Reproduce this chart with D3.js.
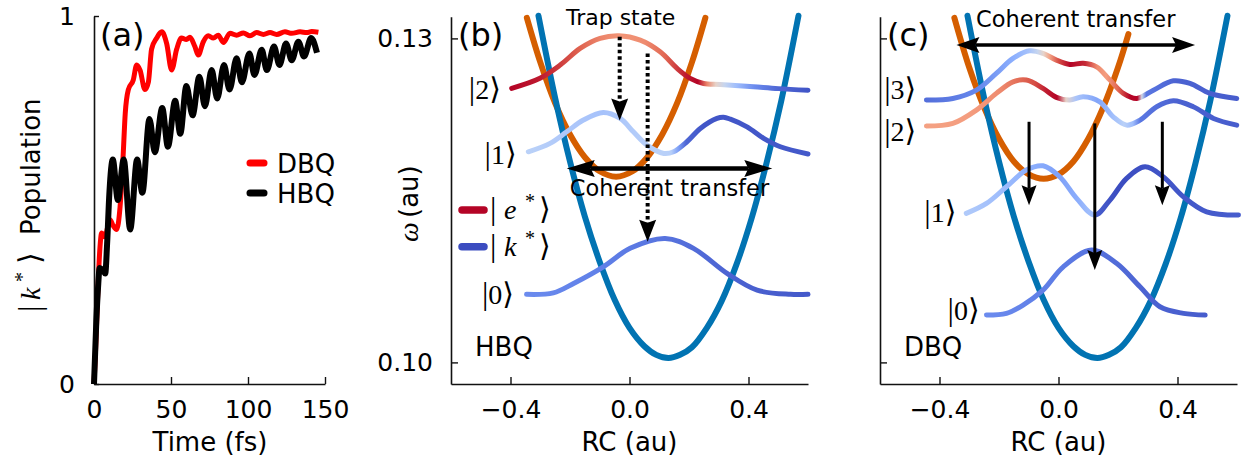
<!DOCTYPE html>
<html>
<head>
<meta charset="utf-8">
<script src="https://cdn.jsdelivr.net/npm/d3@7"></script>
<style>
body{margin:0;background:#fff}
text{font-family:"DejaVu Sans",sans-serif;fill:#000}
</style>
</head>
<body>
<script>
// ---- panel (a): |k*> population vs time
var aTicksX=[0,50,100,150]
var aTicksY=[0,1]
var legendA=["DBQ","HBQ"]
var dbq=[[0,0],[0.9,0.08],[2.2,0.22],[3.7,0.36],[5,0.41],[7,0.40],[10.4,0.446],[12.5,0.43],[14.7,0.42],[16.9,0.48],
  [18.8,0.61],[20.3,0.736],[22.3,0.80],[25.5,0.826],[27.7,0.867],[29.9,0.853],[33.1,0.80],[35.3,0.82],[37.4,0.91],
  [40.7,0.94],[44,0.957],[47.2,0.925],[50.4,0.853],[53.7,0.91],[56.8,0.94],[60,0.936],[62.3,0.942],[65.5,0.917],
  [67.7,0.894],[71,0.93],[74.2,0.946],[77.5,0.94],[80.7,0.948],[84,0.928],[88.3,0.953],[92.6,0.948],[97,0.954],
  [101.3,0.946],[105.6,0.955],[110,0.95],[114.3,0.955],[118.6,0.95],[124,0.957],[128.4,0.953],[133.8,0.957],
  [138.1,0.955],[141.4,0.958],[145.7,0.956]]
var hbq=[[0,0],[1.5,0.17],[2.6,0.26],[3.7,0.315],[5.5,0.31],[7.3,0.30],[8.5,0.38],[10,0.52],[12.2,0.61],[15.5,0.50],
  [19.3,0.61],[23.5,0.42],[28,0.61],[31.4,0.52],[36,0.72],[39.5,0.63],[44.3,0.75],[48,0.645],[52.7,0.77],[56,0.68],
  [60,0.81],[64,0.73],[68.4,0.835],[72,0.755],[76.4,0.853],[80,0.776],[84.4,0.867],[88,0.80],[92.6,0.885],[96,0.82],
  [100.9,0.898],[104.2,0.84],[108.9,0.908],[112.2,0.853],[116.9,0.917],[120.4,0.867],[124.7,0.925],[128.4,0.88],
  [132.7,0.93],[136.4,0.89],[141,0.94],[144.8,0.90]]

// ---- panels (b),(c): potentials and vibrational states (RC, omega)
var rcTicks=[-0.4,0,0.4]
var wTicks=[0.10,0.13]
var groundPot=[[-0.306,0.1321],[-0.25,0.1245],[-0.2,0.1186],[-0.15,0.1135],[-0.1,0.1093],[-0.05,0.1058],[0,0.1032],
  [0.05,0.1015],[0.09,0.1007],[0.131,0.1004],[0.17,0.1007],[0.21,0.1014],[0.26,0.1032],[0.31,0.1057],[0.36,0.1091],
  [0.41,0.1133],[0.46,0.1184],[0.51,0.1242],[0.568,0.1321]]
var excPotB=[[-0.345,0.1319],[-0.3,0.1278],[-0.25,0.1240],[-0.2,0.1211],[-0.15,0.1190],[-0.1,0.1177],[-0.045,0.1172],
  [0.01,0.1177],[0.06,0.1190],[0.11,0.1211],[0.16,0.1240],[0.21,0.1278],[0.255,0.1319]]
var excPotC=[[-0.35,0.1319],[-0.3,0.1273],[-0.25,0.1236],[-0.2,0.1207],[-0.15,0.1186],[-0.1,0.1174],[-0.05,0.1170],
  [0,0.1174],[0.05,0.1186],[0.1,0.1207],[0.15,0.1236],[0.2,0.1273],[0.235,0.1304]]

// state curves [RC, omega] and e* character [RC, 0..1]
var b2=[[-0.396,0.12537],[-0.301,0.1263],[-0.233,0.12753],[-0.166,0.12907],[-0.099,0.1300],[-0.035,0.13024],
  [0.036,0.12984],[0.103,0.12876],[0.16,0.12722],[0.204,0.1263],[0.249,0.12583],[0.305,0.12574],[0.417,0.12552],
  [0.5,0.12535],[0.6,0.1252]]
var b2c=[[-0.396,1],[-0.3,0.97],[-0.23,0.92],[-0.17,0.87],[-0.1,0.8],[-0.03,0.76],[0.05,0.78],[0.12,0.86],
  [0.19,0.97],[0.23,1],[0.26,0.8],[0.29,0.55],[0.32,0.42],[0.36,0.3],[0.42,0.15],[0.5,0.06],[0.6,0.02]]
var b1=[[-0.34,0.1195],[-0.267,0.12028],[-0.211,0.12135],[-0.155,0.12244],[-0.088,0.12315],[-0.031,0.12259],
  [0.013,0.12135],[0.059,0.12012],[0.115,0.11935],[0.148,0.1195],[0.193,0.12043],[0.238,0.12166],[0.294,0.12259],
  [0.316,0.1227],[0.339,0.12252],[0.395,0.12181],[0.451,0.12074],[0.507,0.11997],[0.6,0.1193]]
var b1c=[[-0.34,0.38],[-0.2,0.34],[-0.09,0.32],[0,0.35],[0.1,0.38],[0.14,0.37],[0.165,0.2],[0.19,0.06],[0.25,0.02],[0.6,0.03]]
var b0=[[-0.346,0.1063],[-0.256,0.10644],[-0.188,0.10731],[-0.088,0.10885],[0.002,0.11056],[0.12,0.11148],
  [0.215,0.11056],[0.328,0.10824],[0.429,0.10669],[0.541,0.1063],[0.6,0.1063]]
var b0c=[[-0.346,0.15],[-0.1,0.12],[0.12,0.09],[0.35,0.05],[0.6,0.03]]
var c3=[[-0.444,0.12429],[-0.355,0.12444],[-0.276,0.12521],[-0.209,0.12676],[-0.153,0.12815],[-0.097,0.12885],
  [-0.052,0.12861],[-0.007,0.12799],[0.038,0.12759],[0.083,0.12769],[0.128,0.12737],[0.173,0.12614],[0.218,0.12491],
  [0.263,0.12444],[0.319,0.12521],[0.386,0.12607],[0.442,0.12583],[0.509,0.12491],[0.599,0.12444]]
var c3c=[[-0.444,0.08],[-0.27,0.14],[-0.15,0.25],[-0.1,0.32],[-0.07,0.42],[-0.05,0.55],[-0.03,0.72],[0,0.9],
  [0.04,1],[0.09,0.95],[0.13,0.78],[0.16,0.74],[0.2,0.86],[0.24,1],[0.265,1],[0.28,0.45],[0.295,0.1],[0.4,0.05],[0.6,0.04]]
var c2=[[-0.444,0.12188],[-0.355,0.12213],[-0.276,0.12336],[-0.209,0.12491],[-0.153,0.12598],[-0.108,0.12614],
  [-0.052,0.12537],[-0.007,0.12454],[0.038,0.12429],[0.083,0.1246],[0.139,0.12413],[0.184,0.12274],[0.229,0.12197],
  [0.274,0.12243],[0.33,0.12367],[0.386,0.12422],[0.453,0.12367],[0.521,0.12259],[0.599,0.12197]]
var c2c=[[-0.444,0.73],[-0.3,0.74],[-0.2,0.78],[-0.13,0.85],[-0.08,0.9],[-0.04,0.97],[-0.005,1],[0.025,0.55],
  [0.06,0.33],[0.13,0.22],[0.18,0.3],[0.22,0.38],[0.25,0.3],[0.275,0.1],[0.4,0.05],[0.6,0.04]]
var c1=[[-0.31,0.1138],[-0.242,0.11472],[-0.175,0.11626],[-0.108,0.11781],[-0.052,0.1182],[0.004,0.11719],
  [0.061,0.11519],[0.122,0.11364],[0.173,0.11503],[0.229,0.11704],[0.291,0.11811],[0.352,0.11719],[0.42,0.11533],
  [0.498,0.11394],[0.605,0.11364]]
var c1c=[[-0.31,0.35],[-0.2,0.3],[-0.1,0.25],[0,0.21],[0.06,0.24],[0.1,0.3],[0.118,0.3],[0.13,0.04],[0.2,0],[0.35,0.02],[0.605,0.04]]
var c0=[[-0.242,0.10438],[-0.175,0.10454],[-0.119,0.10531],[-0.052,0.10669],[0.016,0.10885],[0.111,0.1104],
  [0.195,0.10917],[0.274,0.107],[0.341,0.10515],[0.42,0.10454],[0.493,0.10438]]
var c0c=[[-0.242,0.15],[0,0.11],[0.11,0.09],[0.3,0.05],[0.493,0.04]]

// ket labels [label, RC of right edge, omega of centre]
var bKets=[["2",-0.432,0.12521],["1",-0.379,0.11919],["0",-0.388,0.10623]]
var cKets=[["3",-0.478,0.12521],["2",-0.478,0.12135],["1",-0.343,0.11382],["0",-0.265,0.10475]]
// arrows: vertical [RC, omega from, omega to], horizontal [RC from, RC to, omega]
var bTrap=[[-0.033,0.13015,0.1224],[0.061,0.12861,0.11117]]
var bCoherent=[-0.211,0.48,0.11796]
var cDecay=[[-0.099,0.12228,0.11456],[0.122,0.12213,0.10855],[0.349,0.12228,0.11456]]
var cCoherent=[-0.343,0.459,0.12938]

var svg=d3.select("body").append("svg")
          .attr("width",1244)
          .attr("height",458)
var defs=svg.append("defs")

var coolStops=["#3b4cc0","#6282ea","#8db0fe","#b9d0f9","#dddddd","#f5c4ac","#f49a7b","#de604d","#b40426"]
var cool=d3.scaleLinear()
           .domain(coolStops.map(function(d,i){return i/(coolStops.length-1)}))
           .range(coolStops)
           .interpolate(d3.interpolateRgb)

var serif="'Liberation Serif','DejaVu Serif',serif"

function styleAxis(g){
  g.attr("font-size",25).attr("font-family","DejaVu Sans")
  g.selectAll("path.domain").attr("stroke","#111").attr("stroke-width",1.6)
  g.selectAll(".tick line").attr("stroke","#111").attr("stroke-width",1.4)
  g.selectAll(".tick text").attr("fill","#000")
}

// ============ panel (a) ============
var xa=d3.scaleLinear().domain([0,150]).range([94,325])
var ya=d3.scaleLinear().domain([0,1]).range([384,16])
var pa=svg.append("g")
pa.append("g").attr("transform","translate(0,384)")
  .call(d3.axisBottom(xa).tickValues(aTicksX).tickFormat(d3.format("d")).tickSizeInner(-7).tickSizeOuter(0).tickPadding(16))
  .call(styleAxis)
pa.append("g").attr("transform","translate(94,0)")
  .call(d3.axisLeft(ya).tickValues(aTicksY).tickFormat(d3.format("d")).tickSizeInner(-5).tickSizeOuter(0).tickPadding(19))
  .call(styleAxis)

var popLine=d3.line()
              .x(function(d){return xa(d[0])})
              .y(function(d){return ya(d[1])})
              .curve(d3.curveMonotoneX)
pa.append("path").datum(dbq).attr("d",popLine)
  .attr("fill","none").attr("stroke","#ff0000").attr("stroke-width",5).attr("stroke-linejoin","round")
pa.append("path").datum(hbq).attr("d",popLine)
  .attr("fill","none").attr("stroke","#000").attr("stroke-width",6).attr("stroke-linejoin","round")

var legA=pa.selectAll("g.legA").data(legendA).enter().append("g")
           .attr("class","legA")
           .attr("transform",function(d,i){return "translate(250,"+(163+i*30)+")"})
legA.append("line").attr("x1",0).attr("x2",14).attr("y1",0).attr("y2",0)
    .attr("stroke",function(d,i){return i==0?"#ff0000":"#000"})
    .attr("stroke-width",7).attr("stroke-linecap","round")
legA.append("text").attr("x",27).attr("y",9.5).attr("font-size",26).text(function(d){return d})

pa.append("text").attr("x",100).attr("y",46).attr("font-size",32).text("(a)")
pa.append("text").attr("x",210).attr("y",451).attr("text-anchor","middle").attr("font-size",26).text("Time (fs)")
var ylabA=pa.append("text").attr("transform","translate(40,313) rotate(-90)").attr("font-size",28)
ylabA.append("tspan").attr("x",1).style("font-family",serif).attr("font-size",32).text("|")
ylabA.append("tspan").attr("x",13).style("font-family",serif).style("font-style","italic").text("k")
ylabA.append("tspan").attr("x",31).attr("dy",-11).style("font-family",serif).attr("font-size",20).text("*")
ylabA.append("tspan").attr("x",49).attr("dy",11).style("font-family","DejaVu Sans").attr("font-size",30).text("\u27e9")
ylabA.append("tspan").attr("x",78).attr("font-size",26).text("Population")

// ============ panels (b) and (c) ============
function headPath(tx,ty,dx,dy,len,hw,notch){
  var bx=tx-dx*len, by=ty-dy*len, px=-dy, py=dx
  return "M"+tx+","+ty+"L"+(bx+px*hw)+","+(by+py*hw)+"L"+(bx+dx*notch)+","+(by+dy*notch)+"L"+(bx-px*hw)+","+(by-py*hw)+"Z"
}

function panel(x0,label,tag,showY){
  var xs=d3.scaleLinear().domain([-0.6,0.6]).range([x0,x0+357])
  var ys=d3.scaleLinear().domain([0.098,0.132]).range([384,16.8])
  var g=svg.append("g")
  g.append("g").attr("transform","translate(0,384)")
   .call(d3.axisBottom(xs).tickValues(rcTicks).tickFormat(d3.format(".1f")).tickSizeInner(-7).tickSizeOuter(0).tickPadding(16))
   .call(styleAxis)
  g.append("g").attr("transform","translate("+x0+",0)")
   .call(d3.axisLeft(ys).tickValues(wTicks).tickFormat(showY?d3.format(".2f"):function(){return ""}).tickSizeInner(-7).tickSizeOuter(0).tickPadding(18))
   .call(styleAxis)
  g.append("text").attr("x",x0+178.5).attr("y",451).attr("text-anchor","middle").attr("font-size",26).text("RC (au)")
  g.append("text").attr("x",x0+7).attr("y",46).attr("font-size",32).text(label)
  g.append("text").attr("x",x0+24).attr("y",356).attr("font-size",26).text(tag)
  return {g:g,xs:xs,ys:ys}
}

function wave(p,pts,cols,id){
  var x1=p.xs(pts[0][0]), x2=p.xs(pts[pts.length-1][0])
  var grad=defs.append("linearGradient").attr("id",id)
               .attr("gradientUnits","userSpaceOnUse")
               .attr("x1",x1).attr("x2",x2).attr("y1",0).attr("y2",0)
  grad.selectAll("stop").data(cols).enter().append("stop")
      .attr("offset",function(d){return Math.max(0,Math.min(1,(p.xs(d[0])-x1)/(x2-x1)))})
      .attr("stop-color",function(d){return cool(d[1])})
  var ln=d3.line().x(function(d){return p.xs(d[0])}).y(function(d){return p.ys(d[1])}).curve(d3.curveCatmullRom)
  p.g.append("path").datum(pts).attr("d",ln)
     .attr("fill","none").attr("stroke","url(#"+id+")").attr("stroke-width",5).attr("stroke-linecap","round")
}

function pot(p,pts,color){
  var ln=d3.line().x(function(d){return p.xs(d[0])}).y(function(d){return p.ys(d[1])}).curve(d3.curveCatmullRom)
  p.g.append("path").datum(pts).attr("d",ln)
     .attr("fill","none").attr("stroke",color).attr("stroke-width",6).attr("stroke-linecap","round")
}

function kets(p,list){
  list.forEach(function(k){
    var t=p.g.append("text").attr("x",p.xs(k[1])).attr("y",p.ys(k[2])+9)
             .attr("text-anchor","end").attr("font-size",28).style("font-family",serif)
    t.append("tspan").attr("font-size",32).text("|")
    t.append("tspan").text(k[0])
    t.append("tspan").style("font-family","DejaVu Sans").attr("font-size",30).text("\u27e9")
  })
}

function downArrow(p,a,w,len,hw,dash){
  var x=p.xs(a[0]), y1=p.ys(a[1]), y2=p.ys(a[2])
  var sh=p.g.append("line").attr("x1",x).attr("x2",x).attr("y1",y1).attr("y2",y2-len+3)
            .attr("stroke","#000").attr("stroke-width",w)
  if(dash) sh.attr("stroke-dasharray",dash)
  p.g.append("path").attr("d",headPath(x,y2,0,1,len,hw,3)).attr("fill","#000")
}

function sideArrow(p,a,w,len,hw){
  var xl=p.xs(a[0]), xr=p.xs(a[1]), y=p.ys(a[2])
  p.g.append("line").attr("x1",xl+len-4).attr("x2",xr-len+4).attr("y1",y).attr("y2",y)
     .attr("stroke","#000").attr("stroke-width",w)
  p.g.append("path").attr("d",headPath(xl,y,-1,0,len,hw,4)).attr("fill","#000")
  p.g.append("path").attr("d",headPath(xr,y,1,0,len,hw,4)).attr("fill","#000")
}

// ---- (b) HBQ
var pb=panel(451,"(b)","HBQ",true)
pot(pb,excPotB,"#d55e00")
pot(pb,groundPot,"#0173b2")
wave(pb,b2,b2c,"gb2")
wave(pb,b1,b1c,"gb1")
wave(pb,b0,b0c,"gb0")
kets(pb,bKets)
bTrap.forEach(function(a){downArrow(pb,a,4,22,8.5,"3.5,3")})
sideArrow(pb,bCoherent,4.5,28,8.5)
pb.g.append("text").attr("x",pb.xs(bTrap[0][0])+1).attr("y",25).attr("text-anchor","middle").attr("font-size",22).text("Trap state")
pb.g.append("text").attr("x",pb.xs((bCoherent[0]+bCoherent[1])/2)).attr("y",pb.ys(bCoherent[2])+28)
   .attr("text-anchor","middle").attr("font-size",22.5).text("Coherent transfer")
var ylabB=pb.g.append("text").attr("transform","translate(418,242) rotate(-90)").attr("font-size",26)
ylabB.append("tspan").style("font-family",serif).style("font-style","italic").attr("font-size",28).text("\u03c9")
ylabB.append("tspan").attr("x",24).text("(au)")

// legend |e*>, |k*>
var legB=pb.g.selectAll("g.legB").data([1,0]).enter().append("g")
           .attr("class","legB")
           .attr("transform",function(d,i){return "translate(0,"+(210+i*36.7)+")"})
legB.append("line").attr("x1",462).attr("x2",484).attr("y1",0).attr("y2",0)
    .attr("stroke",function(d){return cool(d)}).attr("stroke-width",7.5).attr("stroke-linecap","round")
var legT=legB.append("text").attr("y",9).attr("font-size",28).style("font-family",serif)
legT.append("tspan").attr("x",490).attr("font-size",32).text("|")
legT.append("tspan").attr("x",504).style("font-style","italic").text(function(d){return d==1?"e":"k"})
legT.append("tspan").attr("x",525).attr("dy",-11).attr("font-size",20).text("*")
legT.append("tspan").attr("x",539).attr("dy",11).style("font-family","DejaVu Sans").attr("font-size",30).text("\u27e9")

// ---- (c) DBQ
var pc=panel(880,"(c)","DBQ",false)
pot(pc,excPotC,"#d55e00")
pot(pc,groundPot,"#0173b2")
wave(pc,c3,c3c,"gc3")
wave(pc,c2,c2c,"gc2")
wave(pc,c1,c1c,"gc1")
wave(pc,c0,c0c,"gc0")
kets(pc,cKets)
cDecay.forEach(function(a){downArrow(pc,a,3,20,7.5,null)})
sideArrow(pc,cCoherent,3.5,23,8)
pc.g.append("text").attr("x",pc.xs((cCoherent[0]+cCoherent[1])/2)).attr("y",pc.ys(cCoherent[2])-18.5)
   .attr("text-anchor","middle").attr("font-size",22.5).text("Coherent transfer")
</script>
</body>
</html>
